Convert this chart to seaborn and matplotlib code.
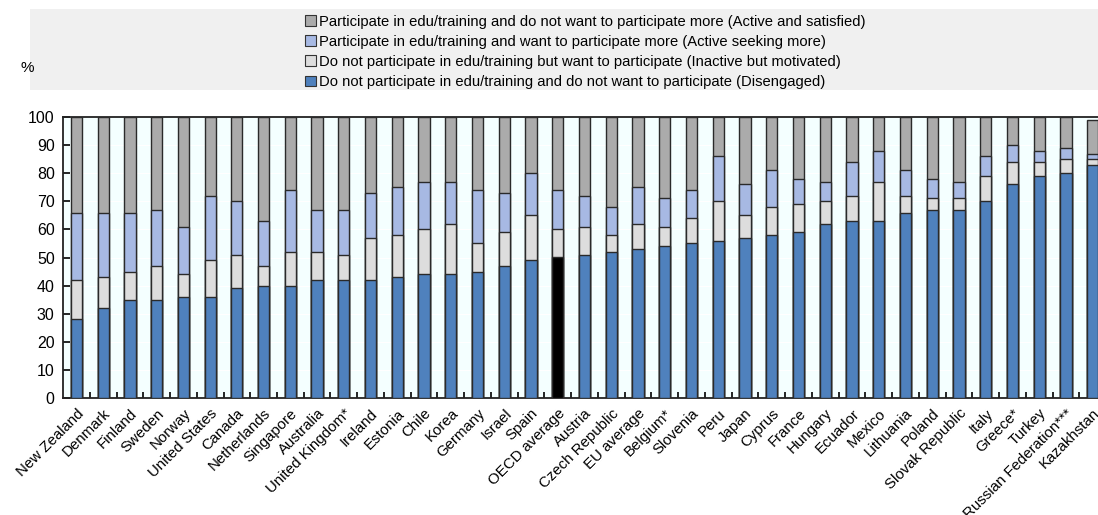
import numpy as np
import pandas as pd
import matplotlib
matplotlib.use("Agg")
import matplotlib.pyplot as plt
from matplotlib.patches import Patch, Rectangle
import seaborn as sns

countries = ["New Zealand", "Denmark", "Finland", "Sweden", "Norway", "United States",
             "Canada", "Netherlands", "Singapore", "Australia", "United Kingdom*",
             "Ireland", "Estonia", "Chile", "Korea", "Germany", "Israel", "Spain",
             "OECD average", "Austria", "Czech Republic", "EU average", "Belgium*",
             "Slovenia", "Peru", "Japan", "Cyprus", "France", "Hungary", "Ecuador",
             "Mexico", "Lithuania", "Poland", "Slovak Republic", "Italy", "Greece*",
             "Turkey", "Russian Federation***", "Kazakhstan"]

disengaged = [28, 32, 35, 35, 36, 36, 39, 40, 40, 42, 42, 42, 43, 44, 44, 45, 47, 49,
              50.2, 51, 52, 53, 54, 55, 56, 57, 58, 59, 62, 63, 63, 66, 67, 67, 70, 76,
              79, 80, 83]
inactive_motivated = [14, 11, 10, 12, 8, 13, 12, 7, 12, 10, 9, 15, 15, 16, 18, 10, 12, 16,
                      10.1, 10, 6, 9, 7, 9, 14, 8, 10, 10, 8, 9, 14, 6, 4, 4, 9, 8,
                      5, 5, 2]
active_seeking = [24, 23, 21, 20, 17, 23, 19, 16, 22, 15, 16, 16, 17, 17, 15, 19, 14, 15,
                  13.6, 11, 10, 13, 10, 10, 16, 11, 13, 9, 7, 12, 11, 9, 7, 6, 7, 6,
                  4, 4, 2]
active_satisfied = [34, 34, 34, 33, 39, 28, 30, 37, 26, 33, 33, 27, 25, 23, 23, 26, 27, 20,
                    26.1, 28, 32, 25, 29, 26, 14, 24, 19, 22, 23, 16, 12, 19, 22, 23, 14, 10,
                    12, 11, 12]

series_labels = [
    "Do not participate in edu/training and do not want to participate (Disengaged)",
    "Do not participate in edu/training but want to participate (Inactive but motivated)",
    "Participate in edu/training and want to participate more (Active seeking more)",
    "Participate in edu/training and do not want to participate more (Active and satisfied)",
]
series_colors = ["#4F81BD", "#DDDDDD", "#A7B9E3", "#ABABAB"]
highlight = {"OECD average": "#000000"}

df = pd.DataFrame({"country": countries,
                   "s0": disengaged, "s1": inactive_motivated,
                   "s2": active_seeking, "s3": active_satisfied})
cum = np.cumsum(df[["s0", "s1", "s2", "s3"]].values, axis=1)
for i in range(4):
    df[f"c{i}"] = cum[:, i]

plt.rcParams['font.family'] = ['Liberation Sans', 'DejaVu Sans']
fig = plt.figure(figsize=(10.98, 5.15), dpi=100)
ax = fig.add_axes([0.0574, 0.2272, 0.950, 0.5456])
ax.set_facecolor("#F4FFFF")

edge = "#2A2A2A"
for i in [3, 2, 1, 0]:
    if i == 0:
        pal = {c: highlight.get(c, series_colors[0]) for c in countries}
    else:
        pal = {c: series_colors[i] for c in countries}
    sns.barplot(data=df, x="country", y=f"c{i}", hue="country", palette=pal,
                dodge=False, legend=False, width=0.42, ax=ax,
                edgecolor=edge, linewidth=1.0, saturation=1, zorder=3)

ax.set_xlim(-0.5, len(countries) - 0.5)
ax.set_ylim(0, 100)
ax.set_yticks(np.arange(0, 101, 10))
ax.grid(axis="y", color="white", linewidth=0.8, zorder=0)
ax.set_axisbelow(True)
ax.set_xlabel("")
ax.set_ylabel("")
ax.tick_params(axis="y", direction="in", length=5, width=1.2, labelsize=11.5, pad=6,
               colors="black")
ax.set_xticks(np.arange(len(countries)))
ax.set_xticklabels(countries, rotation=45, ha="right", rotation_mode="anchor", fontsize=10.8)
ax.tick_params(axis="x", which="major", length=0, pad=6)
ax.set_xticks(np.arange(len(countries) - 1) + 0.5, minor=True)
ax.tick_params(axis="x", which="minor", direction="in", length=4, width=1.2, color="black")
for s in ax.spines.values():
    s.set_color("#222222")
    s.set_linewidth(1.3)

# legend panel
fig.patches.append(Rectangle((0.0275, 0.826), 0.98, 0.156, transform=fig.transFigure,
                             facecolor="#F0F0F0", edgecolor="none", zorder=0))
handles = [Patch(facecolor=series_colors[i], edgecolor="#333333", linewidth=0.8,
                 label=series_labels[i]) for i in [3, 2, 1, 0]]
fig.legend(handles=handles, loc="upper left", bbox_to_anchor=(0.272, 0.983),
           frameon=False, fontsize=10.6, handlelength=0.75, handleheight=0.75,
           handletextpad=0.25, labelspacing=0.42, borderaxespad=0)
fig.text(0.025, 0.868, "%", fontsize=11, ha="center", va="center")

fig.savefig("out.png", dpi=100)
